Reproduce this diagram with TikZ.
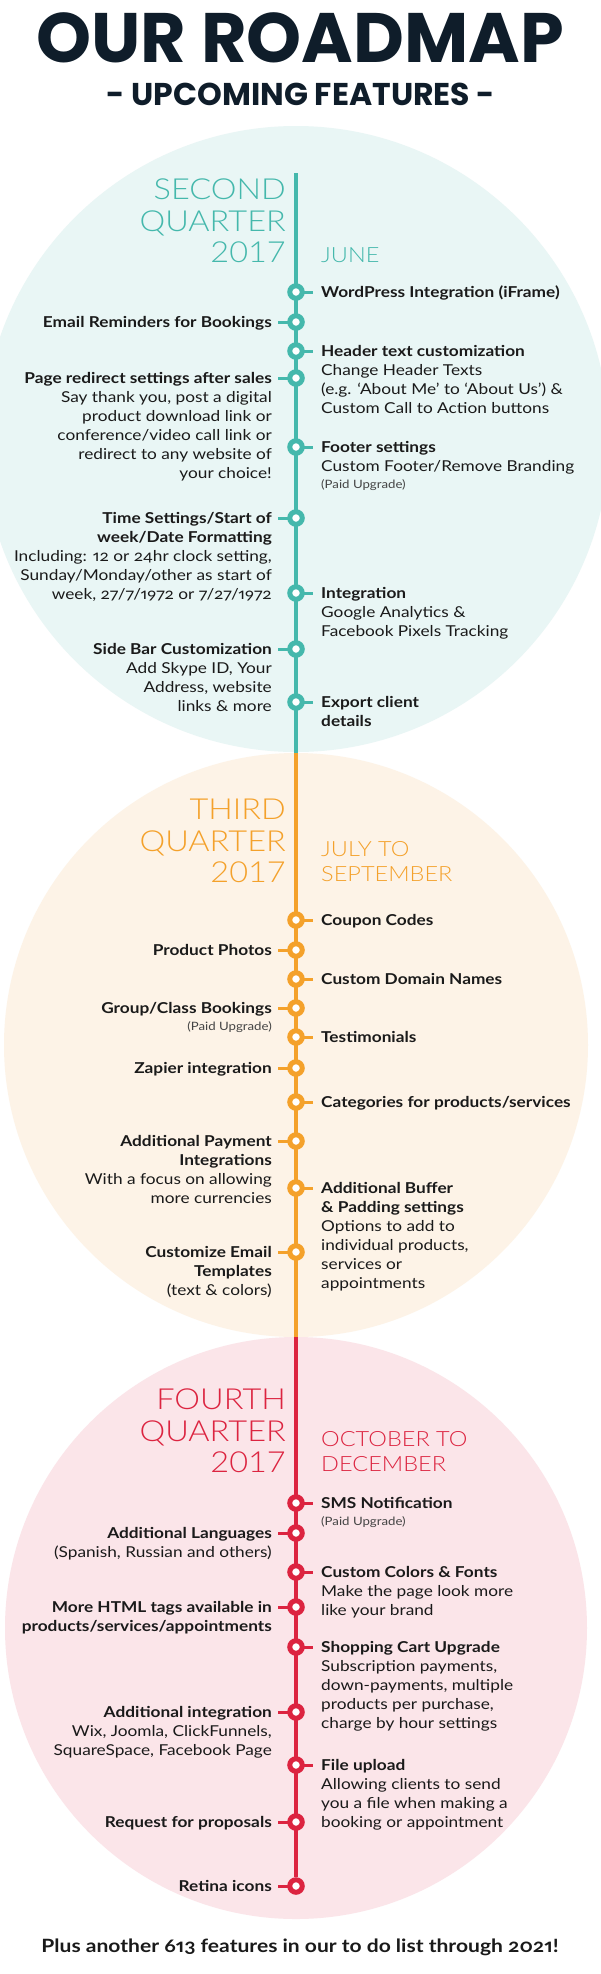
\documentclass[tikz,border=0pt]{standalone}
\usepackage{fontspec}
\setmainfont{Lato}[FakeStretch=1.15, Numbers={OldStyle,Proportional}]
\newfontfamily\titlefont{Poppins}
\newfontfamily\qfont{Lato Light}[FakeStretch=1.12]
\usetikzlibrary{positioning}

\definecolor{qteal}{HTML}{45B8AC}
\definecolor{qtealbg}{HTML}{E9F6F5}
\definecolor{qorange}{HTML}{F4A12B}
\definecolor{qorangebg}{HTML}{FDF3E7}
\definecolor{qred}{HTML}{DC2440}
\definecolor{qredbg}{HTML}{FBE5E9}
\definecolor{navy}{HTML}{0F1D2A}
\definecolor{ink}{HTML}{1A1A1A}
\definecolor{paidgray}{HTML}{444444}

\newcommand\bodyfont{\fontsize{15}{19}\selectfont}
\newcommand\paidfont{\fontsize{11.5}{13}\selectfont}
\newcommand\topstrut{\rule{0pt}{14pt}}
\newcommand\paid{\\[-2pt]{\paidfont\color{paidgray}(Paid Upgrade)}}

\pgfdeclarelayer{bg}
\pgfdeclarelayer{track}
\pgfsetlayers{bg,track,main}

\tikzset{
  ring/.style={circle, draw=#1, fill=white, line width=5pt, minimum size=12.5pt, inner sep=0pt},
  stub/.style={draw=#1, line width=3pt},
  track/.style={draw=#1, line width=4pt},
  rtext/.style={anchor=north west, align=left, inner sep=0pt, font=\bodyfont, text=ink},
  ltext/.style={anchor=north east, align=right, inner sep=0pt, font=\bodyfont, text=ink},
  quarter/.style={anchor=south east, align=right, inner sep=0pt, font=\qfont\fontsize{29}{31.5}\selectfont, text=#1},
  month/.style={anchor=south west, align=left, inner sep=0pt, font=\qfont\fontsize{21}{25}\selectfont, text=#1},
}

\begin{document}
\begin{tikzpicture}[x=1pt, y=-1pt]
    \useasboundingbox (0,0) rectangle (600,1974);

    % background discs
    \begin{pgfonlayer}{bg}
        \fill[white] (0,0) rectangle (600,1974);
        \fill[qtealbg] (296,439) circle (313pt);
        \fill[qorangebg] (296,1045) circle (292pt);
        \fill[qredbg] (296,1628) circle (291pt);
    \end{pgfonlayer}

    % title
    \node[font=\titlefont\bfseries\fontsize{70}{70}\selectfont, text=navy, anchor=base] (title) at (300,62) {OUR ROADMAP};
    \node[font=\titlefont\bfseries\fontsize{31.5}{32}\selectfont, text=navy, anchor=base] (subtitle) at (301,105) {- UPCOMING FEATURES -};

    \coordinate (q2top) at (296,173);
    \coordinate (q3top) at (296,753);
    \coordinate (q4top) at (296,1337);

    % second quarter
    \node[quarter=qteal] (q2) at (286,263) {SECOND\\QUARTER\\2017};
    \node[month=qteal] (m2) at (321,263) {JUNE};

    \foreach \n/\y in {t1/292, t2/322, t3/351, t4/378, t5/447, t6/518, t7/593, t8/649, t9/702}
        \node[ring=qteal] (\n) at (296,\y) {};

    \node[rtext] (t1-txt) at (321,283) {\topstrut\textbf{WordPress Integration (iFrame)}};
    \node[ltext] (t2-txt) at (272,313) {\topstrut\textbf{Email Reminders for Bookings}};
    \node[rtext] (t3-txt) at (321,342) {\topstrut\textbf{Header text customization}\\Change Header Texts\\(e.g. ‘About Me’ to ‘About Us’) \&\\Custom Call to Action buttons};
    \node[ltext] (t4-txt) at (272,369) {\topstrut\textbf{Page redirect settings after sales}\\Say thank you, post a digital\\product download link or\\conference/video call link or\\redirect to any website of\\your choice!};
    \node[rtext] (t5-txt) at (321,438) {\topstrut\textbf{Footer settings}\\Custom Footer/Remove Branding\paid};
    \node[ltext] (t6-txt) at (272,509) {\topstrut\textbf{Time Settings/Start of}\\\textbf{week/Date Formatting}\\Including: 12 or 24hr clock setting,\\Sunday/Monday/other as start of\\week, 27/7/1972 or 7/27/1972};
    \node[rtext] (t7-txt) at (321,584) {\topstrut\textbf{Integration}\\Google Analytics \&\\Facebook Pixels Tracking};
    \node[ltext] (t8-txt) at (272,640) {\topstrut\textbf{Side Bar Customization}\\Add Skype ID, Your\\Address, website\\links \& more};
    \node[rtext] (t9-txt) at (321,693) {\topstrut\textbf{Export client}\\\textbf{details}};

    % third quarter
    \node[quarter=qorange] (q3) at (286,883) {THIRD\\QUARTER\\2017};
    \node[month=qorange] (m3) at (321,882) {JULY TO\\SEPTEMBER};

    \foreach \n/\y in {o1/920, o2/950, o3/979, o4/1008, o5/1037, o6/1068, o7/1102, o8/1141, o9/1188, o10/1252}
        \node[ring=qorange] (\n) at (296,\y) {};

    \node[rtext] (o1-txt) at (321,911) {\topstrut\textbf{Coupon Codes}};
    \node[ltext] (o2-txt) at (272,941) {\topstrut\textbf{Product Photos}};
    \node[rtext] (o3-txt) at (321,970) {\topstrut\textbf{Custom Domain Names}};
    \node[ltext] (o4-txt) at (272,999) {\topstrut\textbf{Group/Class Bookings}\paid};
    \node[rtext] (o5-txt) at (321,1028) {\topstrut\textbf{Testimonials}};
    \node[ltext] (o6-txt) at (272,1059) {\topstrut\textbf{Zapier integration}};
    \node[rtext] (o7-txt) at (321,1093) {\topstrut\textbf{Categories for products/services}};
    \node[ltext] (o8-txt) at (272,1132) {\topstrut\textbf{Additional Payment}\\\textbf{Integrations}\\With a focus on allowing\\more currencies};
    \node[rtext] (o9-txt) at (321,1179) {\topstrut\textbf{Additional Buffer}\\\textbf{\& Padding settings}\\Options to add to\\individual products,\\services or\\appointments};
    \node[ltext] (o10-txt) at (272,1243) {\topstrut\textbf{Customize Email}\\\textbf{Templates}\\(text \& colors)};

    % fourth quarter
    \node[quarter=qred] (q4) at (286,1473) {FOURTH\\QUARTER\\2017};
    \node[month=qred] (m4) at (321,1472) {OCTOBER TO\\DECEMBER};

    \foreach \n/\y in {r1/1503, r2/1533, r3/1572, r4/1607, r5/1647, r6/1712, r7/1765, r8/1822, r9/1886}
        \node[ring=qred] (\n) at (296,\y) {};

    \node[rtext] (r1-txt) at (321,1494) {\topstrut\textbf{SMS Notification}\paid};
    \node[ltext] (r2-txt) at (272,1524) {\topstrut\textbf{Additional Languages}\\(Spanish, Russian and others)};
    \node[rtext] (r3-txt) at (321,1563) {\topstrut\textbf{Custom Colors \& Fonts}\\Make the page look more\\like your brand};
    \node[ltext] (r4-txt) at (272,1598) {\topstrut\textbf{More HTML tags available in}\\\textbf{products/services/appointments}};
    \node[rtext] (r5-txt) at (321,1638) {\topstrut\textbf{Shopping Cart Upgrade}\\Subscription payments,\\down-payments, multiple\\products per purchase,\\charge by hour settings};
    \node[ltext] (r6-txt) at (272,1703) {\topstrut\textbf{Additional integration}\\Wix, Joomla, ClickFunnels,\\SquareSpace, Facebook Page};
    \node[rtext] (r7-txt) at (321,1756) {\topstrut\textbf{File upload}\\Allowing clients to send\\you a file when making a\\booking or appointment};
    \node[ltext] (r8-txt) at (272,1813) {\topstrut\textbf{Request for proposals}};
    \node[ltext] (r9-txt) at (272,1877) {\topstrut\textbf{Retina icons}};

    % timeline and ticks
    \begin{pgfonlayer}{track}
        \draw[track=qteal] (q2top) -- (q3top);
        \draw[track=qorange] (q3top) -- (q4top);
        \draw[track=qred] (q4top) -- (r9);
        \foreach \n in {t1, t3, t5, t7, t9}
            \draw[stub=qteal] (\n.center) -- ([xshift=-8pt]\n.center -| \n-txt.west);
        \foreach \n in {t2, t4, t6, t8}
            \draw[stub=qteal] (\n.center) -- ([xshift=6pt]\n.center -| \n-txt.east);
        \foreach \n in {o1, o3, o5, o7, o9}
            \draw[stub=qorange] (\n.center) -- ([xshift=-8pt]\n.center -| \n-txt.west);
        \foreach \n in {o2, o4, o6, o8, o10}
            \draw[stub=qorange] (\n.center) -- ([xshift=6pt]\n.center -| \n-txt.east);
        \foreach \n in {r1, r3, r5, r7}
            \draw[stub=qred] (\n.center) -- ([xshift=-8pt]\n.center -| \n-txt.west);
        \foreach \n in {r2, r4, r6, r8, r9}
            \draw[stub=qred] (\n.center) -- ([xshift=6pt]\n.center -| \n-txt.east);
    \end{pgfonlayer}

    % footer
    \node[font=\bfseries\fontsize{18.3}{19}\selectfont, text=ink, anchor=base] (footer) at (300,1952) {Plus another 613 features in our to do list through 2021!};
\end{tikzpicture}
\end{document}
